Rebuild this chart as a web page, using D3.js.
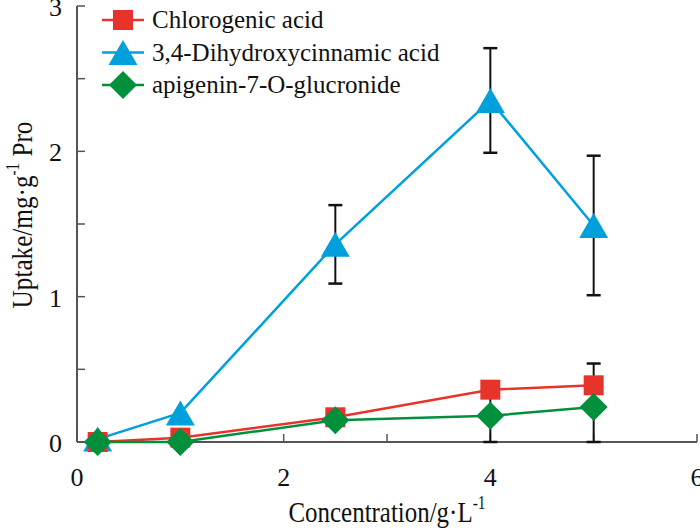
<!DOCTYPE html>
<html>
<head>
<meta charset="utf-8">
<script src="https://cdn.jsdelivr.net/npm/d3@7"></script>
<style>
body { margin: 0; background: #fff; }
text { font-family: "Liberation Serif", "Times New Roman", serif; fill: #111; }
</style>
</head>
<body>
<div id="chart"></div>
<script>
// data
var concentrations = [0.2, 1, 2.5, 4, 5];
var seriesNames = ["Chlorogenic acid", "3,4-Dihydroxycinnamic acid", "apigenin-7-O-glucronide"];
var chlorogenic = [0.0, 0.03, 0.17, 0.36, 0.39];
var chlorogenicErrUp = [0, 0, 0, 0, 0.15];
var chlorogenicErrDown = [0, 0, 0, 0, 0.15];
var dihydroxy = [0.02, 0.2, 1.36, 2.35, 1.49];
var dihydroxyErrUp = [0, 0, 0.27, 0.36, 0.48];
var dihydroxyErrDown = [0, 0, 0.27, 0.36, 0.48];
var apigenin = [0.0, 0.0, 0.15, 0.18, 0.24];
var apigeninErrUp = [0, 0, 0, 0.18, 0];
var apigeninErrDown = [0, 0, 0, 0.18, 0.24];
var xTicks = [0, 1, 2, 3, 4, 5, 6];
var xLabels = [0, 2, 4, 6];
var yTicks = [0, 0.5, 1, 1.5, 2, 2.5, 3];
var yLabels = [0, 1, 2, 3];

var W = 700, H = 529;
var margin = {top: 6, right: 3, bottom: 87, left: 77},
width = W - margin.left - margin.right,
height = H - margin.top - margin.bottom;

var svg = d3.select("#chart")
.append("svg")
.attr("width", W)
.attr("height", H)
.append("g")
.attr("transform", "translate(" + margin.left + "," + margin.top + ")");

var x = d3.scaleLinear().domain([0, 6]).range([0, width]);
var y = d3.scaleLinear().domain([0, 3]).range([height, 0]);

var axisColor = "#555";

// x axis
var gx = svg.append("g").attr("transform", "translate(0," + height + ")");
gx.append("line").attr("x1", 0).attr("x2", x(6)).attr("stroke", axisColor).attr("stroke-width", 2);
gx.selectAll(".tk").data(xTicks).enter().append("line")
  .attr("x1", function(d) { return x(d); }).attr("x2", function(d) { return x(d); })
  .attr("y1", 0).attr("y2", -8)
  .attr("stroke", axisColor).attr("stroke-width", 1.5);
gx.selectAll(".lb").data(xLabels).enter().append("text")
  .attr("x", function(d) { return x(d); })
  .attr("y", 44)
  .attr("text-anchor", "middle")
  .style("font-size", "26px")
  .text(function(d) { return d; });

// y axis
var gy = svg.append("g");
gy.append("line").attr("y1", y(3)).attr("y2", height).attr("stroke", axisColor).attr("stroke-width", 2);
gy.selectAll(".tk").data(yTicks).enter().append("line")
  .attr("y1", function(d) { return y(d); }).attr("y2", function(d) { return y(d); })
  .attr("x1", 0).attr("x2", 8)
  .attr("stroke", axisColor).attr("stroke-width", 1.5);
gy.selectAll(".lb").data(yLabels).enter().append("text")
  .attr("x", -15)
  .attr("y", function(d) { return y(d) + 10; })
  .attr("text-anchor", "end")
  .style("font-size", "26px")
  .text(function(d) { return d; });

// axis titles (narrow serif look)
var xt = svg.append("text")
  .attr("transform", "translate(" + (width / 2) + "," + (height + 80) + ") scale(0.86,1)")
  .attr("text-anchor", "middle")
  .style("font-size", "29px");
xt.append("tspan").text("Concentration/g\u00B7L");
xt.append("tspan").attr("dy", -13).style("font-size", "18px").text("-1");

var yt = svg.append("text")
  .attr("transform", "translate(-45,209) rotate(-90) scale(0.84,1)")
  .attr("text-anchor", "middle")
  .style("font-size", "30px");
yt.append("tspan").text("Uptake/mg\u00B7g");
yt.append("tspan").attr("dy", -13).style("font-size", "18px").text("-1");
yt.append("tspan").attr("dy", 13).text(" Pro");

// marker shapes
function triangle(s) { return "M0," + (-s * 0.86) + "L" + s + "," + (s * 0.86) + "L" + (-s) + "," + (s * 0.86) + "Z"; }
function square(s) { return "M" + (-s) + "," + (-s) + "H" + s + "V" + s + "H" + (-s) + "Z"; }
function diamond(s) { return "M0," + (-s) + "L" + s + ",0L0," + s + "L" + (-s) + ",0Z"; }

var series = [
  {name: seriesNames[1], vals: dihydroxy, up: dihydroxyErrUp, down: dihydroxyErrDown, color: "#00a0dc", shape: triangle, r: 14.5},
  {name: seriesNames[0], vals: chlorogenic, up: chlorogenicErrUp, down: chlorogenicErrDown, color: "#e8332a", shape: square, r: 10},
  {name: seriesNames[2], vals: apigenin, up: apigeninErrUp, down: apigeninErrDown, color: "#00903c", shape: diamond, r: 14}
];

var line = d3.line()
  .x(function(d) { return x(d[0]); })
  .y(function(d) { return y(d[1]); });

// error bars first (behind)
series.forEach(function(s) {
  var eg = svg.append("g");
  concentrations.forEach(function(c, i) {
    var ends = [];
    if (s.up[i] > 0) ends.push(s.vals[i] + s.up[i]);
    if (s.down[i] > 0) ends.push(Math.max(0, s.vals[i] - s.down[i]));
    ends.forEach(function(v) {
      eg.append("line").attr("x1", x(c)).attr("x2", x(c)).attr("y1", y(s.vals[i])).attr("y2", y(v))
        .attr("stroke", "#111").attr("stroke-width", 2);
      eg.append("line").attr("x1", x(c) - 7).attr("x2", x(c) + 7).attr("y1", y(v)).attr("y2", y(v))
        .attr("stroke", "#111").attr("stroke-width", 2.5);
    });
  });
});

series.forEach(function(s) {
  var pts = concentrations.map(function(c, i) { return [c, s.vals[i]]; });
  svg.append("path").datum(pts)
    .attr("d", line).attr("fill", "none")
    .attr("stroke", s.color).attr("stroke-width", 2.5);
  svg.selectAll(null).data(pts).enter().append("path")
    .attr("d", s.shape(s.r))
    .attr("transform", function(d) { return "translate(" + x(d[0]) + "," + y(d[1]) + ")"; })
    .attr("fill", s.color);
});

// legend
var legendOrder = [series[1], series[0], series[2]];
var lg = svg.append("g").attr("transform", "translate(25,14)");
legendOrder.forEach(function(s, i) {
  var row = lg.append("g").attr("transform", "translate(0," + (i * 32.5) + ")");
  row.append("line").attr("x1", 0).attr("x2", 42).attr("stroke", s.color).attr("stroke-width", 2.5);
  row.append("path").attr("d", s.shape(s.r))
    .attr("transform", "translate(21,0)").attr("fill", s.color);
  row.append("text").attr("x", 50).attr("y", 8).style("font-size", "25px").text(s.name);
});
</script>
</body>
</html>
